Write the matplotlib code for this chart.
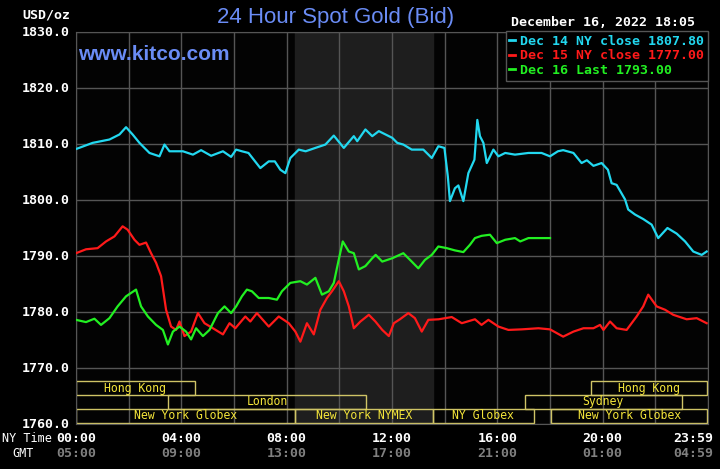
import matplotlib
matplotlib.use("Agg")
import matplotlib.pyplot as plt
from matplotlib.lines import Line2D
from matplotlib.patches import Rectangle
from matplotlib.transforms import blended_transform_factory

# ---- data (hours NY time, USD/oz) ----
dec14_h = [0, 0.63, 1.27, 1.65, 1.90, 2.15, 2.41, 2.79, 3.17, 3.36, 3.55, 4.06, 4.44, 4.75,
           5.13, 5.58, 5.89, 6.08, 6.30, 6.55, 7.0, 7.32, 7.55, 7.76, 7.95, 8.14, 8.46, 8.72,
           9.09, 9.47, 9.79, 10.17, 10.55, 10.68, 10.99, 11.25, 11.5, 12.01, 12.20, 12.43,
           12.75, 13.19, 13.51, 13.76, 13.99, 14.12, 14.2, 14.39, 14.52, 14.71, 14.9, 15.13,
           15.24, 15.34, 15.47, 15.6, 15.85, 16.04, 16.3, 16.67, 17.18, 17.68, 18.0, 18.3,
           18.5, 18.89, 19.2, 19.4, 19.65, 19.96, 20.2, 20.34, 20.53, 20.85, 20.97, 21.23,
           21.54, 21.86, 22.11, 22.46, 22.81, 23.13, 23.44, 23.76, 23.95]
dec14_p = [1809.1, 1810.2, 1810.8, 1811.7, 1813.0, 1811.7, 1810.2, 1808.4, 1807.8, 1809.9,
           1808.7, 1808.7, 1808.1, 1808.9, 1807.9, 1808.7, 1807.7, 1809.0, 1808.7, 1808.4,
           1805.7, 1806.9, 1806.9, 1805.4, 1804.8, 1807.5, 1809.0, 1808.7, 1809.3, 1809.9,
           1811.5, 1809.3, 1811.4, 1810.5, 1812.6, 1811.4, 1812.3, 1811.1, 1810.2, 1809.9,
           1809.0, 1809.0, 1807.5, 1809.6, 1809.3, 1804.2, 1799.8, 1802.1, 1802.6, 1799.8,
           1804.8, 1807.2, 1814.3, 1811.4, 1810.2, 1806.6, 1809.0, 1807.8, 1808.4, 1808.1,
           1808.4, 1808.4, 1807.8, 1808.7, 1808.9, 1808.4, 1806.6, 1807.1, 1806.1, 1806.6,
           1805.4, 1803.0, 1802.7, 1800.1, 1798.3, 1797.4, 1796.6, 1795.6, 1793.2, 1795.0,
           1794.0, 1792.6, 1790.8, 1790.2, 1790.8]

dec15_h = [0, 0.38, 0.82, 1.14, 1.46, 1.77, 1.96, 2.22, 2.41, 2.66, 2.85, 3.04, 3.23, 3.42,
           3.61, 3.80, 3.93, 4.12, 4.37, 4.63, 4.88, 5.2, 5.58, 5.83, 6.05, 6.43, 6.62, 6.87,
           7.32, 7.70, 8.08, 8.33, 8.52, 8.77, 9.03, 9.28, 9.53, 9.72, 9.98, 10.17, 10.36,
           10.55, 10.8, 11.12, 11.37, 11.63, 11.88, 12.07, 12.30, 12.62, 12.87, 13.13, 13.38,
           13.77, 14.27, 14.65, 15.15, 15.40, 15.66, 16.04, 16.42, 16.93, 17.56, 18.0, 18.5,
           18.89, 19.27, 19.65, 19.9, 20.03, 20.28, 20.53, 20.91, 21.29, 21.54, 21.73, 22.05,
           22.37, 22.68, 23.19, 23.57, 23.95]
dec15_p = [1790.5, 1791.2, 1791.4, 1792.6, 1793.5, 1795.3, 1794.7, 1792.9, 1792.0, 1792.4,
           1790.5, 1788.8, 1786.4, 1780.4, 1777.4, 1776.8, 1778.3, 1775.7, 1776.5, 1779.8,
           1778.0, 1777.1, 1776.0, 1778.0, 1777.1, 1779.2, 1778.3, 1779.8, 1777.4, 1779.2,
           1778.0, 1776.5, 1774.7, 1778.0, 1776.0, 1780.4, 1782.5, 1783.7, 1785.5, 1783.7,
           1781.0, 1777.1, 1778.3, 1779.5, 1778.3, 1776.8, 1775.7, 1778.0, 1778.7, 1779.8,
           1778.9, 1776.5, 1778.6, 1778.7, 1779.1, 1778.0, 1778.7, 1777.7, 1778.6, 1777.4,
           1776.8, 1776.9, 1777.1, 1776.9, 1775.6, 1776.5, 1777.1, 1777.1, 1777.7, 1776.8,
           1778.3, 1777.1, 1776.8, 1779.2, 1781.0, 1783.1, 1781.0, 1780.4, 1779.5, 1778.7,
           1778.9, 1778.0]

dec16_h = [0, 0.38, 0.70, 0.95, 1.27, 1.58, 1.9, 2.28, 2.47, 2.73, 3.04, 3.30, 3.49, 3.68,
           3.93, 4.18, 4.37, 4.56, 4.82, 5.07, 5.39, 5.64, 5.89, 6.08, 6.3, 6.49, 6.68, 6.94,
           7.32, 7.63, 7.82, 8.14, 8.52, 8.77, 9.09, 9.34, 9.6, 9.79, 9.98, 10.13, 10.36,
           10.55, 10.74, 10.99, 11.25, 11.38, 11.63, 12.01, 12.43, 12.75, 13.0, 13.25, 13.51,
           13.76, 14.08, 14.39, 14.71, 14.96, 15.15, 15.40, 15.72, 15.98, 16.30, 16.67, 16.87,
           17.18, 18.0]
dec16_p = [1778.6, 1778.2, 1778.8, 1777.7, 1778.9, 1781.0, 1782.8, 1784.0, 1781.0, 1779.2,
           1777.7, 1776.8, 1774.2, 1776.5, 1777.4, 1776.5, 1775.1, 1777.1, 1775.7, 1776.8,
           1779.8, 1781.0, 1779.8, 1781.0, 1782.8, 1784.0, 1783.7, 1782.5, 1782.5, 1782.2,
           1783.7, 1785.2, 1785.5, 1784.9, 1786.1, 1783.1, 1783.7, 1785.2, 1789.4, 1792.6,
           1790.8, 1790.5, 1787.6, 1788.2, 1789.6, 1790.2, 1789.0, 1789.6, 1790.5, 1789.0,
           1787.8, 1789.3, 1790.2, 1791.7, 1791.4, 1791.0, 1790.7, 1792.0, 1793.2, 1793.6,
           1793.8, 1792.3, 1792.9, 1793.2, 1792.6, 1793.2, 1793.2]

series_labels = ["Dec 14 NY close 1807.80", "Dec 15 NY close 1777.00", "Dec 16 Last 1793.00"]
series_colors = ["#22d8f0", "#ff1a1a", "#22f022"]

yticks = [1760, 1770, 1780, 1790, 1800, 1810, 1820, 1830]
ny_ticks = [0, 4, 8, 12, 16, 20, 23.98]
ny_labels = ["00:00", "04:00", "08:00", "12:00", "16:00", "20:00", "23:59"]
gmt_labels = ["05:00", "09:00", "13:00", "17:00", "21:00", "01:00", "04:59"]

# market sessions: (name, start hour, end hour, row)
sessions = [
    ("Hong Kong", 0.0, 4.5, 2),
    ("Hong Kong", 19.55, 23.98, 2),
    ("London", 3.5, 11.0, 1),
    ("Sydney", 17.05, 23.0, 1),
    ("New York Globex", 0.0, 8.33, 0),
    ("New York NYMEX", 8.33, 13.55, 0),
    ("NY Globex", 13.55, 17.38, 0),
    ("New York Globex", 18.05, 23.98, 0),
]
row_edges = [1760.2, 1762.7, 1765.2, 1767.6]

MONO = "DejaVu Sans Mono"
SANS = "Liberation Sans"

fig = plt.figure(figsize=(7.2, 4.69), dpi=100, facecolor="black")
ax = fig.add_axes([76 / 720, 45 / 469, 632 / 720, 392 / 469])
ax.set_facecolor("#030303")
ax.set_xlim(0, 23.99)
ax.set_ylim(1760, 1830)

# NYMEX pit hours shading
ax.axvspan(8.33, 13.55, color="#1e1e1e", zorder=0)

ax.set_xticks(range(0, 25, 2))
ax.set_yticks(yticks)
ax.grid(True, color="#555555", lw=1.0)
ax.tick_params(length=0, labelbottom=False, labelleft=False)
for s in ax.spines.values():
    s.set_color("#555555")

for h, p, c, lab in zip([dec14_h, dec15_h, dec16_h], [dec14_p, dec15_p, dec16_p],
                        series_colors, series_labels):
    ax.plot(h, p, color=c, lw=1.6, label=lab, zorder=3)

for name, x0, x1, row in sessions:
    y0, y1 = row_edges[row], row_edges[row + 1]
    ax.add_patch(Rectangle((x0, y0), x1 - x0, y1 - y0, fill=False,
                           edgecolor="#cfc466", lw=1.0, zorder=2))
    ax.text((x0 + x1) / 2, (y0 + y1) / 2, name, color="#f5e63a", fontsize=8.3,
            family=MONO, ha="center", va="center", zorder=2)

# y labels
for v in yticks:
    ax.text(-0.22, v, f"{v:.1f}", color="white", fontsize=9.5, family=MONO,
            fontweight="bold", ha="right", va="center", clip_on=False)
fig.text(70 / 720, 1 - 15 / 469, "USD/oz", color="white", fontsize=9.5, family=MONO,
         fontweight="bold", ha="right", va="center")

# x labels (NY time and GMT)
tr = blended_transform_factory(ax.transData, fig.transFigure)
for i, (t, a, b) in enumerate(zip(ny_ticks, ny_labels, gmt_labels)):
    ha = "right" if i == len(ny_ticks) - 1 else "center"
    xx = 24.2 if i == len(ny_ticks) - 1 else t
    ax.text(xx, 1 - 438 / 469, a, transform=tr, color="white", fontsize=9.5,
            family=MONO, fontweight="bold", ha=ha, va="center")
    ax.text(xx, 1 - 453 / 469, b, transform=tr, color="#808080", fontsize=9.5,
            family=MONO, fontweight="bold", ha=ha, va="center")
fig.text(52 / 720, 1 - 438 / 469, "NY Time", color="white", fontsize=8.5, family=MONO,
         ha="right", va="center")
fig.text(34 / 720, 1 - 453 / 469, "GMT", color="white", fontsize=8.5, family=MONO,
         ha="right", va="center")

# titles
fig.text(336 / 720, 1 - 18 / 469, "24 Hour Spot Gold (Bid)", color="#6a8cf5",
         fontsize=16, family=SANS, ha="center", va="center")
fig.text(78 / 720, 1 - 55 / 469, "www.kitco.com", color="#6a8cf5", fontsize=15,
         family=SANS, fontweight="bold", ha="left", va="center")
fig.text(695 / 720, 1 - 23 / 469, "December 16, 2022 18:05", color="white", fontsize=9.5,
         family=MONO, fontweight="bold", ha="right", va="center")

handles = [Line2D([], [], color=c, lw=2) for c in series_colors]
leg = ax.legend(handles, series_labels, loc="upper right",
                bbox_to_anchor=(708 / 720, 1 - 31 / 469), bbox_transform=fig.transFigure,
                borderaxespad=0, frameon=True, fancybox=False, handlelength=0.45,
                handletextpad=0.35, borderpad=0.3, labelspacing=0.1,
                prop={"family": MONO, "weight": "bold", "size": 9.5},
                labelcolor="linecolor")
leg.get_frame().set_facecolor("black")
leg.get_frame().set_edgecolor("#555555")
leg.get_frame().set_alpha(1)
leg.set_zorder(5)
# widen the frame on the left like the reference box
leg._legend_box.set_offset  # keep default placement
for t in leg.get_texts():
    t.set_x(0)

fig.savefig("out.png", dpi=100, facecolor="black")
